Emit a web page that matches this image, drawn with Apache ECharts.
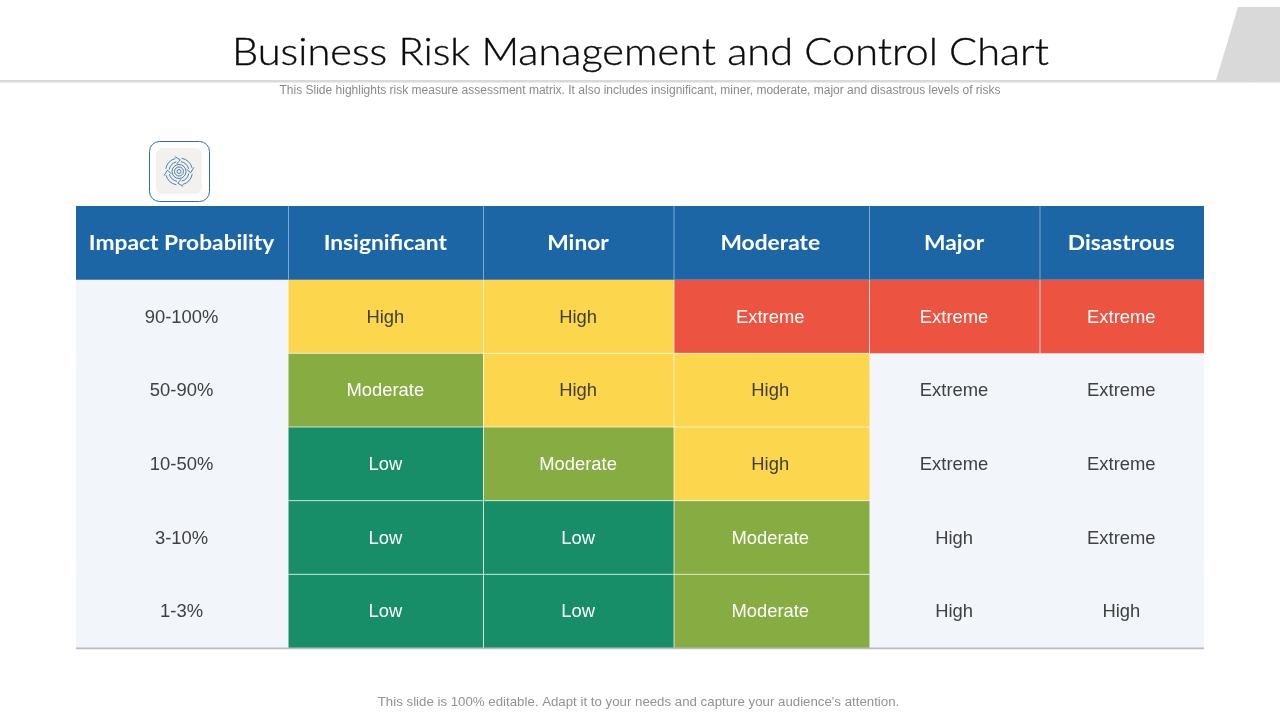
<!DOCTYPE html>
<html>
<head>
<meta charset="utf-8">
<style>html,body{margin:0;padding:0;background:#fff}#chart{width:1280px;height:720px}</style>
<script src="https://cdn.jsdelivr.net/npm/echarts@6/dist/echarts.min.js"></script>
</head>
<body>
<div id="chart"></div>
<script>
const titleText = 'Business Risk Management and Control Chart';
const subtitleText = 'This Slide highlights risk measure assessment matrix. It also includes insignificant, miner, moderate, major and disastrous levels of risks';
const footerText = "This slide is 100% editable. Adapt it to your needs and capture your audience's attention.";

const columnLabels = ['Impact Probability', 'Insignificant', 'Minor', 'Moderate', 'Major', 'Disastrous'];
const rowLabels = ['90-100%', '50-90%', '10-50%', '3-10%', '1-3%'];

const ratings = [
  ['High', 'High', 'Extreme', 'Extreme', 'Extreme'],
  ['Moderate', 'High', 'High', 'Extreme', 'Extreme'],
  ['Low', 'Moderate', 'High', 'Extreme', 'Extreme'],
  ['Low', 'Low', 'Moderate', 'High', 'Extreme'],
  ['Low', 'Low', 'Moderate', 'High', 'High']
];
// Cell is painted with its rating colour (1) or left on the pale background (0)
const painted = [
  [1, 1, 1, 1, 1],
  [1, 1, 1, 0, 0],
  [1, 1, 1, 0, 0],
  [1, 1, 1, 0, 0],
  [1, 1, 1, 0, 0]
];

// Layout (not data): column widths in pixels
const columnWidths = [212.5, 195, 190.5, 195.5, 170.5, 164];
const columnStarts = columnWidths.reduce((a, w) => { a.push(a[a.length - 1] + w); return a; }, [0]);
const ratingColors = { High: '#FCD64C', Extreme: '#EC5441', Moderate: '#86AC42', Low: '#178E68' };
const HEADER = '#1D66A6', PALE = '#F2F5FA', SEPARATOR = 'rgba(255,255,255,0.7)';

const cells = [];
rowLabels.forEach((r, i) => {
  cells.push({ col: 0, row: i + 1, text: r, fill: PALE, kind: 'pale' });
  ratings[i].forEach((v, j) => {
    if (!painted[i][j]) cells.push({ col: j + 1, row: i + 1, text: v, fill: PALE, kind: 'pale' });
  });
});
rowLabels.forEach((r, i) => {
  ratings[i].forEach((v, j) => {
    if (painted[i][j]) cells.push({ col: j + 1, row: i + 1, text: v, fill: ratingColors[v], kind: v });
  });
});
columnLabels.forEach((c, j) => cells.push({ col: j, row: 0, text: c, fill: HEADER, kind: 'header' }));

const chart = echarts.init(document.getElementById('chart'), null, { renderer: 'canvas' });

function renderCell(params, api) {
  const c = cells[params.dataIndex];
  const h = api.size([0, 1])[1];
  const left = api.coord([columnStarts[c.col], c.row])[0];
  const right = api.coord([columnStarts[c.col + 1], c.row])[0];
  const cy = api.coord([0, c.row])[1];
  const top = cy - h / 2;
  const isHeader = c.kind === 'header';
  const isColoured = !isHeader && c.kind !== 'pale';
  const darkText = c.kind === 'pale' || c.kind === 'High';
  const children = [{
    type: 'rect',
    shape: { x: left, y: top, width: right - left, height: h },
    style: { fill: c.fill }
  }];
  if (isHeader && c.col > 0) {
    children.push({
      type: 'line',
      shape: { x1: left, y1: top, x2: left, y2: top + h },
      style: { stroke: '#7FA9D0', lineWidth: 1 }
    });
  }
  if (isColoured && c.col > 1) {
    children.push({
      type: 'line',
      shape: { x1: left, y1: top, x2: left, y2: top + h },
      style: { stroke: SEPARATOR, lineWidth: 1 }
    });
  }
  if (isColoured && c.row > 1) {
    children.push({
      type: 'line',
      shape: { x1: left, y1: top, x2: right, y2: top },
      style: { stroke: SEPARATOR, lineWidth: 1 }
    });
  }
  const cx = (left + right) / 2 - (c.col === 3 ? 1.5 : 0.7);
  children.push({
    type: 'text',
    x: cx,
    y: isHeader ? cy : cy + 1,
    scaleX: isHeader ? 1.085 : 1,
    style: {
      x: 0,
      y: 0,
      text: c.text,
      align: 'center',
      verticalAlign: 'middle',
      fill: isHeader ? '#FFFFFF' : (darkText ? '#404040' : '#FFFFFF'),
      font: isHeader ? 'bold 21px Lato, sans-serif' : '18.4px "Liberation Sans", Arial, sans-serif'
    }
  });
  return { type: 'group', children };
}

const ICON_X = 179, ICON_Y = 171.5, ICON_BLUE = '#2F6DA8', ICON_LINE = '#4A80B2';
const iconParts = [];
[2, 4.5, 7].forEach(r => iconParts.push({
  type: 'circle', shape: { cx: ICON_X, cy: ICON_Y, r },
  style: { fill: 'none', stroke: ICON_LINE, lineWidth: 1 }, silent: true
}));
[0, 1, 2, 3].forEach(q => {
  const a = q * Math.PI / 2 + 0.2;
  const end = a + 1.1;
  iconParts.push({
    type: 'arc', shape: { cx: ICON_X, cy: ICON_Y, r: 13.5, startAngle: a, endAngle: end },
    style: { fill: 'none', stroke: ICON_LINE, lineWidth: 1 }, silent: true
  });
  iconParts.push({
    type: 'arc', shape: { cx: ICON_X, cy: ICON_Y, r: 10, startAngle: a, endAngle: end },
    style: { fill: 'none', stroke: ICON_LINE, lineWidth: 1 }, silent: true
  });
  const pt = (r, t) => [ICON_X + r * Math.cos(t), ICON_Y + r * Math.sin(t)];
  iconParts.push({
    type: 'polyline',
    shape: { points: [pt(15.5, end), pt(11.7, end + 0.38), pt(8, end)] },
    style: { fill: 'none', stroke: ICON_LINE, lineWidth: 1 }, silent: true
  });
});

chart.setOption({
  animation: false,
  grid: { left: 76, top: 206, width: 1128, height: 442 },
  xAxis: { type: 'value', min: 0, max: columnStarts[columnStarts.length - 1], show: false },
  yAxis: { type: 'category', inverse: true, data: ['header'].concat(rowLabels), show: false },
  series: [{
    type: 'custom',
    coordinateSystem: 'cartesian2d',
    silent: true,
    data: cells.map(c => [columnStarts[c.col], c.row]),
    encode: { x: 0, y: 1 },
    clip: false,
    renderItem: renderCell
  }],
  graphic: [
    { type: 'rect', shape: { x: 0, y: 80, width: 1280, height: 2.5 }, style: { fill: '#D9D9D9' }, silent: true },
    { type: 'polygon', shape: { points: [[1216, 80], [1238, 7], [1280, 7], [1280, 82]] }, style: { fill: '#D9D9D9' }, silent: true },
    { type: 'text', x: 640.5, y: 53, scaleX: 1.093, style: { x: 0, y: 0, text: titleText, align: 'center', verticalAlign: 'middle', fill: '#0A0A0A', stroke: '#0A0A0A', lineWidth: 0.35, font: '300 38px Lato, sans-serif' }, silent: true },
    { type: 'text', style: { x: 640, y: 91, text: subtitleText, align: 'center', verticalAlign: 'middle', fill: '#8A8A8A', font: '12px "Liberation Sans", Arial, sans-serif' }, silent: true },
    { type: 'text', x: 638.5, y: 702.5, scaleX: 1.02, style: { x: 0, y: 0, text: footerText, align: 'center', verticalAlign: 'middle', fill: '#929292', font: '13px "Liberation Sans", Arial, sans-serif' }, silent: true },
    { type: 'rect', shape: { x: 149.5, y: 141.5, width: 60, height: 60, r: 10 }, style: { fill: '#FFFFFF', stroke: ICON_BLUE, lineWidth: 1 }, silent: true },
    { type: 'rect', shape: { x: 156, y: 148, width: 46, height: 46, r: 7 }, style: { fill: '#F2F1F0' }, silent: true },
    { type: 'group', children: iconParts, silent: true },
    { type: 'rect', shape: { x: 76, y: 647.5, width: 1128, height: 1.8 }, style: { fill: '#B9BCC3' }, silent: true, z: 100 }
  ]
});
</script>
</body>
</html>
